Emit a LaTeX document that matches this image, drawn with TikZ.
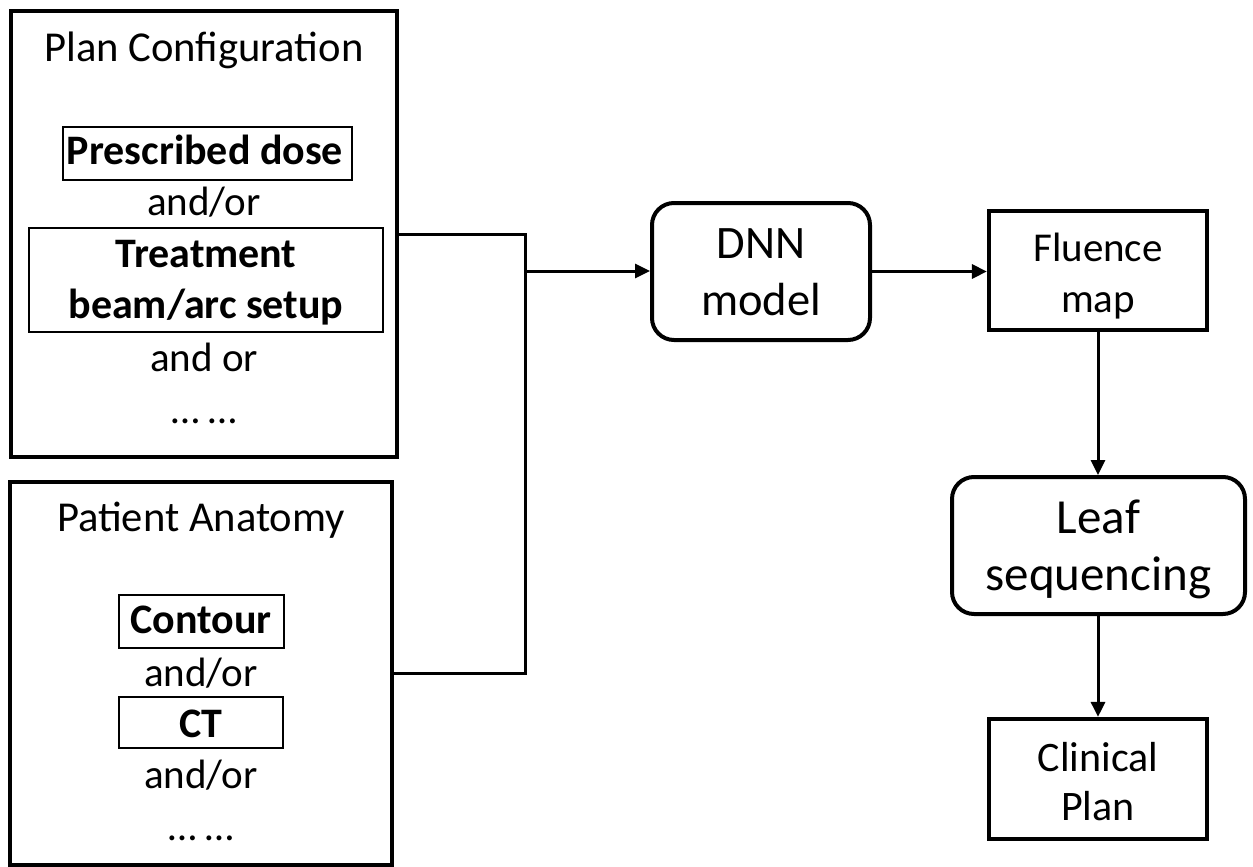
\documentclass[tikz,border=0pt]{standalone}
\usepackage{fontspec}
\setmainfont{Carlito}
\usetikzlibrary{arrows.meta}
\tikzset{
  bigbox/.style={draw, line width=4pt, inner sep=0pt},
  inbox/.style={draw, line width=2.5pt, inner sep=0pt},
  flowbox/.style={draw, line width=4.2pt, inner sep=0pt},
  roundbox/.style={draw, line width=4pt, rounded corners=22pt, inner sep=0pt},
  txt/.style={anchor=base, inner sep=0pt, font=\fontsize{41}{49}\selectfont},
  ttl/.style={anchor=base, inner sep=0pt, font=\fontsize{42.6}{50}\selectfont},
  btxt/.style={anchor=base, inner sep=0pt, font=\fontsize{42}{50}\selectfont\bfseries},
  conn/.style={line width=3pt},
  arr/.style={line width=3pt, -{Triangle[length=15pt,width=14pt]}},
}
\begin{document}
\begin{tikzpicture}[x=1pt,y=-1pt]
\useasboundingbox (0,0) rectangle (1253,867);
% left boxes
\node[bigbox, minimum width=386pt, minimum height=446pt] (plan) at (204,234) {};
\node[bigbox, minimum width=382pt, minimum height=383pt] (pat) at (201,673.5) {};
% plan config content
\node[ttl] (plant) at (204,62) {Plan Configuration};
\node[inbox, minimum width=289pt, minimum height=53pt] (presb) at (207.5,153.5) {};
\node[btxt] (prest) at (205,164) {Prescribed dose};
\node[txt] (ao1) at (204,215) {and/or};
\node[inbox, minimum width=354pt, minimum height=104pt] (treatb) at (206,280) {};
\node[btxt] (treat1) at (206,267) {Treatment};
\node[btxt] (treat2) at (206,318) {beam/arc setup};
\node[txt] (ao2) at (204,371) {and or};
\node[txt] (dots1) at (204,423) {\dots\ \dots};
% patient content
\node[ttl] (patt) at (201,531) {Patient Anatomy};
\node[inbox, minimum width=165pt, minimum height=53pt] (contb) at (201.5,621.5) {};
\node[btxt] (contt) at (201,633) {Contour};
\node[txt] (ao3) at (201,686) {and/or};
\node[inbox, minimum width=164pt, minimum height=51pt] (ctb) at (201,722.5) {};
\node[btxt] (ctt) at (201,737) {CT};
\node[txt] (ao4) at (201,788) {and/or};
\node[txt] (dots2) at (201,840) {\dots\ \dots};
% right flow
\node[roundbox, minimum width=218pt, minimum height=137pt] (dnn) at (761,271.5) {};
\node[txt, font=\fontsize{46.5}{55}\selectfont] (dnnt1) at (761,258) {DNN};
\node[txt, font=\fontsize{46.5}{55}\selectfont] (dnnt2) at (761,315) {model};
\node[flowbox, minimum width=218pt, minimum height=119pt] (flu) at (1098,270.5) {};
\node[txt] (flut1) at (1098,261) {Fluence};
\node[txt] (flut2) at (1098,312) {map};
\node[roundbox, minimum width=293pt, minimum height=137pt] (leaf) at (1098.5,545.5) {};
\node[txt, font=\fontsize{49}{58}\selectfont] (leaft1) at (1098.5,533) {Leaf};
\node[txt, font=\fontsize{49}{58}\selectfont] (leaft2) at (1098.5,590) {sequencing};
\node[flowbox, minimum width=218pt, minimum height=120pt] (clin) at (1098,779) {};
\node[txt, font=\fontsize{42}{50}\selectfont] (clint1) at (1098,771) {Clinical};
\node[txt, font=\fontsize{42}{50}\selectfont] (clint2) at (1098,820) {Plan};
% connectors
\coordinate (j) at (525,271);
\draw[conn] (plan.east) -| (j);
\draw[conn] (pat.east) -| (j);
\draw[arr] (j) -- (dnn.west |- j);
\draw[arr] (dnn.east) -- (flu.west |- dnn.east);
\draw[arr] (flu.south) -- (leaf.north -| flu.south);
\draw[arr] (leaf.south -| clin.north) -- (clin.north);
\end{tikzpicture}
\end{document}
